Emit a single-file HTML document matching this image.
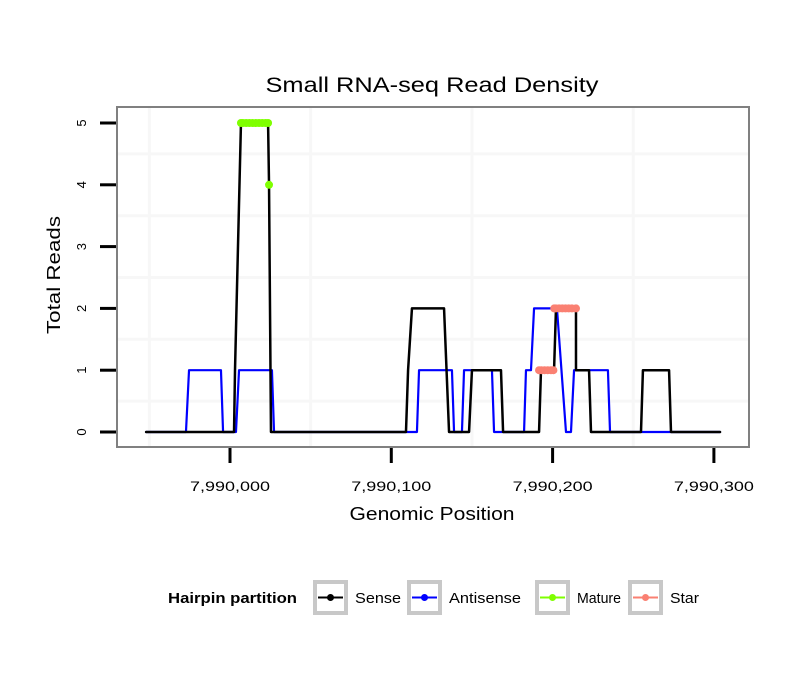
<!DOCTYPE html>
<html><head><meta charset="utf-8"><style>
body{margin:0;background:#fff;font-family:"Liberation Sans",sans-serif}
svg text{font-family:"Liberation Sans",sans-serif}
</style></head><body>
<svg id="c" width="810" height="690" xmlns="http://www.w3.org/2000/svg">
<text x="432" y="92" font-size="21" text-anchor="middle" textLength="333" lengthAdjust="spacingAndGlyphs">Small RNA-seq Read Density</text>
<rect x="117" y="107" width="632" height="340" fill="#fff" stroke="none"/>
<g id="grid"></g><g id="series"></g>
<rect x="117" y="107" width="632" height="340" fill="none" stroke="#808080" stroke-width="2"/>
<g id="axes"></g>
<text x="432" y="520" font-size="18" text-anchor="middle" textLength="165" lengthAdjust="spacingAndGlyphs">Genomic Position</text>
<text x="0" y="0" font-size="18" text-anchor="middle" textLength="118" lengthAdjust="spacingAndGlyphs" transform="translate(60,275) rotate(-90)">Total Reads</text>
<g id="legend"></g>
</svg>
<script>
const BASE = 7990000;
const xTicks = [0, 100, 200, 300];
const xTickLabels = ["7,990,000", "7,990,100", "7,990,200", "7,990,300"];
const yTicks = [0, 1, 2, 3, 4, 5];
const senseX = [-52,2.5,3.1,6.8,23.6,24.2,25.4,109.1,110.4,112.8,132.7,135.8,148.2,150,168,169.3,191.6,192.8,200.9,202.1,214.5,214.5,222.6,223.8,254.8,256,272.2,273.4,303.8];
const senseY = [0,0,1,5,5,4,0,0,1,2,2,0,0,1,1,0,0,1,1,2,2,1,1,0,0,1,1,0,0];
const antiX = [-52,-27.3,-25.4,-5.6,-4.3,3.7,5.6,26,27.3,115.9,117.2,137.6,138.9,143.8,145.1,162.4,163.7,182.3,183.5,186.6,188.5,202.7,208.3,211.4,213.3,234.3,235.6,303.8];
const antiY = [0,0,1,1,0,0,1,1,0,0,1,1,0,0,1,1,0,0,1,1,2,2,0,0,1,1,0,0];
const matureX = [6.8,8,10,12,14,16,18,20,22,23.6,24.2];
const matureY = [5,5,5,5,5,5,5,5,5,5,4];
const starX = [191.6,193,195,197,199,200.5,201,202,204,206,208,210,212,214.5];
const starY = [1,1,1,1,1,1,2,2,2,2,2,2,2,2];
const NS="http://www.w3.org/2000/svg";
const sx = v => 230 + (v)*1.613;
const sy = v => 432 - v*61.8;
function mk(tag, attrs, parent){const e=document.createElementNS(NS,tag);for(const k in attrs)e.setAttribute(k,attrs[k]);parent.appendChild(e);return e;}
const grid=document.getElementById('grid');
[-50,50,150,250].forEach(v=>{const l=mk('line',{x1:sx(v),x2:sx(v),y1:108,y2:446,stroke:'#f7f7f7','stroke-width':3},grid);

});
[0.5,1.5,2.5,3.5,4.5].forEach(v=>{const l=mk('line',{x1:118,x2:748,y1:sy(v),y2:sy(v),stroke:'#f7f7f7','stroke-width':3},grid);

});
const axes=document.getElementById('axes');
xTicks.forEach((t,i)=>{const l=mk('line',{x1:sx(t),x2:sx(t),y1:448,y2:463,stroke:'#000','stroke-width':3},axes);


const tx=mk('text',{x:sx(t),y:491,'font-size':14,'text-anchor':'middle',textLength:80,lengthAdjust:'spacingAndGlyphs'},axes);tx.textContent=xTickLabels[i];

});
yTicks.forEach(t=>{const l=mk('line',{x1:100,x2:116,y1:sy(t),y2:sy(t),stroke:'#000','stroke-width':3},axes);


const tx=mk('text',{x:0,y:0,'font-size':13,'text-anchor':'middle',transform:`translate(86,${sy(t)}) rotate(-90)`},axes);tx.textContent=t;

});
const ser=document.getElementById('series');
function line(xs,ys,col,w,name){const p=mk('polyline',{points:xs.map((x,i)=>sx(x)+','+sy(ys[i])).join(' '),fill:'none',stroke:col,'stroke-width':w,'stroke-linecap':'round','stroke-linejoin':'round'},ser);

}
line(antiX,antiY,'#0000ff',2.2,'antisense-line');
line(senseX,senseY,'#000',2.5,'sense-line');
function pts(xs,ys,col,name){xs.forEach((x,i)=>{const c=mk('circle',{cx:sx(x),cy:sy(ys[i]),r:4,fill:col},ser);

});}
pts(matureX,matureY,'#7fff00','mature-point');
pts(starX,starY,'#fa8072','star-point');
const lg=document.getElementById('legend');
const lt=mk('text',{x:168,y:603,'font-size':15,'font-weight':'bold',textLength:129,lengthAdjust:'spacingAndGlyphs'},lg);lt.textContent='Hairpin partition';


const keys=[['Sense','#000',315,355,46],['Antisense','#0000ff',409,449,72],['Mature','#7fff00',537,577,44],['Star','#fa8072',630,670,29]];
keys.forEach(k=>{const g=mk('g',{},lg);


mk('rect',{x:k[2],y:582,width:31,height:31,fill:'#fff',stroke:'#c8c8c8','stroke-width':4},g);
mk('line',{x1:k[2]+3,x2:k[2]+28,y1:597.5,y2:597.5,stroke:k[1],'stroke-width':2},g);
mk('circle',{cx:k[2]+15.5,cy:597.5,r:3.5,fill:k[1]},g);
const t=mk('text',{x:k[3],y:603,'font-size':15,textLength:k[4],lengthAdjust:'spacingAndGlyphs'},g);t.textContent=k[0];});
</script>
</body></html>
